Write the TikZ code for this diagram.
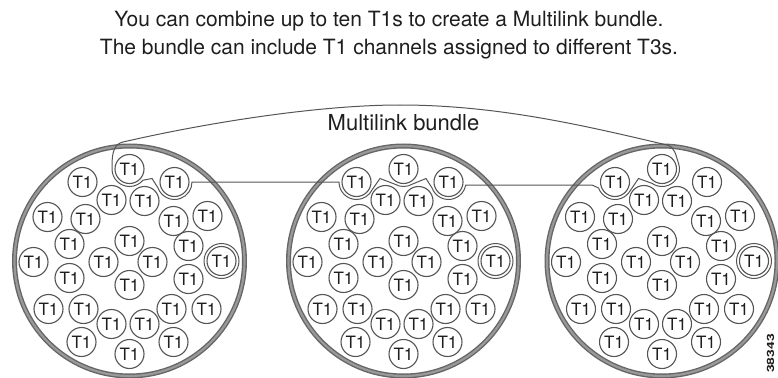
\documentclass[tikz,border=0pt]{standalone}
\usepackage{fontspec}
\setmainfont{TeX Gyre Heros}
\usetikzlibrary{calc}
\definecolor{ink}{HTML}{1E1E1E}
\definecolor{ringc}{HTML}{555555}
\definecolor{bandc}{HTML}{666666}
\definecolor{bandin}{HTML}{999999}
\begin{document}
\begin{tikzpicture}[x=1pt,y=1pt,
  tone/.style={circle,draw=ringc,line width=1.1pt,minimum size=29pt,inner sep=0pt,
    font=\fontsize{17}{17}\selectfont,text=ink},
  cable/.style={circle,draw=bandc,line width=1.4pt,double=bandin,double distance=2.2pt,
    minimum size=230pt,inner sep=0pt},
  bundle/.style={draw=ringc,line width=1pt},
  hlring/.style={draw=ringc,line width=1pt},
  caption/.style={font=\fontsize{21}{21}\selectfont,text=ink,anchor=base,inner sep=0pt}]
\useasboundingbox (0,0) rectangle (778,-377);

\node[caption] (l1) at (389,-27) {You can combine up to ten T1s to create a Multilink bundle.};
\node[caption] (l2) at (389,-55) {The bundle can include T1 channels assigned to different T3s.};

\foreach \c/\cx in {1/129.5,2/403.5,3/662}{
  \node[cable] (big\c) at (\cx,-261) {};
  \foreach \dx/\dy [count=\i] in {
      0/-92, -47/-79, 45/-79, -18/-61, 15/-60,
      -82/-44, -44/-42, 44/-40, 78/-45,
      -60/-17, 0/-20, 59/-15,
      -96/1, -26/1, 23/1, 92/0,
      -60/17, 0/24, 59/18,
      -81/48, -46/48, 42/48, 77/48,
      -18/63, 15/63,
      -48/81, 44/81, 0/93}{
    \node[tone] (c\c-\i) at ({\cx+(\dx)},{-261-(\dy)}) {T1};
  }
  \draw[hlring] (c\c-16.center) circle[radius=17.5];
}

\draw[bundle]
  ($(c1-1)+(180:17.5)$) arc[start angle=180,end angle=320,radius=17.5]
  -- ($(c1-1)!0.5!(c1-3)+(0,-3)$)
  -- ($(c1-3)+(200:17.5)$) arc[start angle=200,end angle=360,radius=17.5]
  -- ($(c2-2)+(180:17.5)$) arc[start angle=180,end angle=335,radius=17.5]
  -- ($(c2-2)!0.5!(c2-1)+(0,-3)$)
  -- ($(c2-1)+(240:17.5)$) arc[start angle=240,end angle=300,radius=17.5]
  -- ($(c2-1)!0.5!(c2-3)+(0,-3)$)
  -- ($(c2-3)+(200:17.5)$) arc[start angle=200,end angle=350,radius=17.5]
  -- ($(c3-2)+(-23,-3)$)
  -- ($(c3-2)+(200:17.5)$) arc[start angle=200,end angle=330,radius=17.5]
  -- ($(c3-2)!0.5!(c3-1)+(0,-3)$)
  -- ($(c3-1)+(235:17.5)$) arc[start angle=235,end angle=380,radius=17.5]
  to[out=110,in=-14] (667,-145)
  .. controls (590,-127) and (500,-105) .. (400,-105)
  .. controls (320,-105) and (210,-122) .. (123,-142)
  to[out=192,in=90] ($(c1-1)+(180:17.5)$);

\node[font=\fontsize{22}{22}\selectfont,text=ink,anchor=base,inner sep=0pt] (lbl) at (403.5,-130) {Multilink bundle};

\node[rotate=90,font=\fontsize{10}{10}\selectfont\bfseries,text=ink,inner sep=0pt] (fig) at (770.5,-353.5) {\scalebox{1.4}[1]{38343}};
\end{tikzpicture}
\end{document}
